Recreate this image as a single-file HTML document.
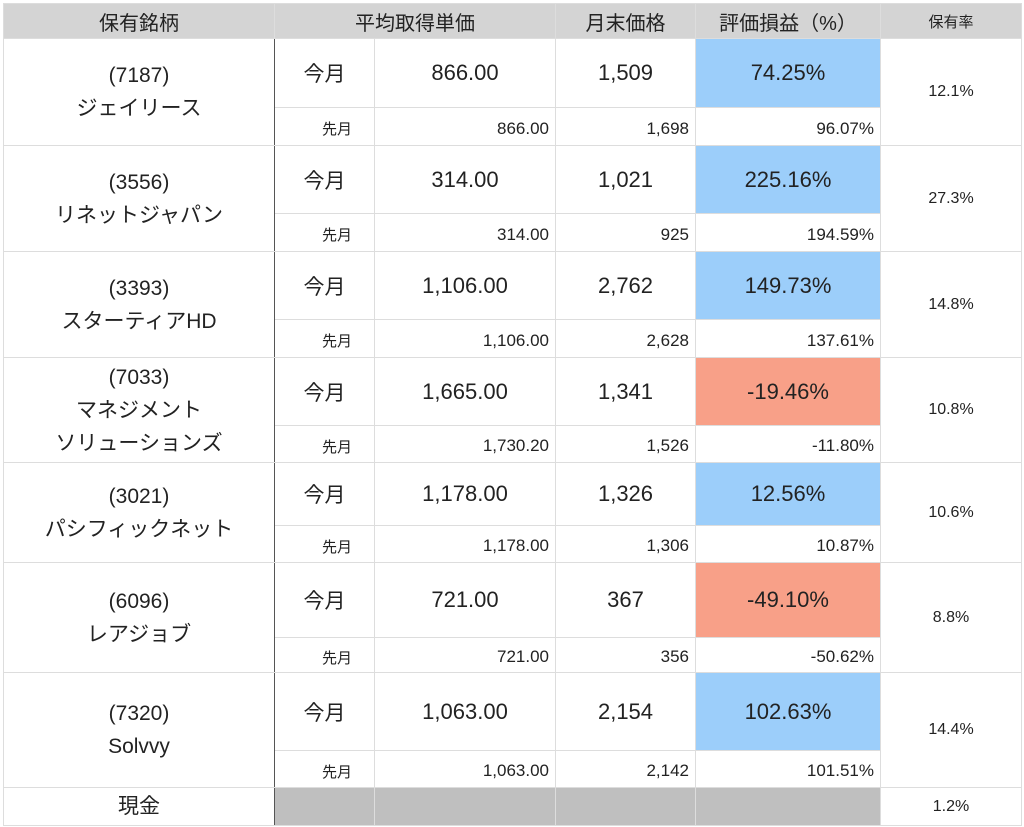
<!DOCTYPE html>
<html><head><meta charset="utf-8"><style>
body{margin:0;background:#fff;width:1024px;height:827px;overflow:hidden;font-family:"Liberation Sans","Noto Sans CJK JP",sans-serif;color:#222}
table{position:absolute;left:3px;top:3px;border-collapse:collapse;table-layout:fixed;width:1018px}
td,th{border:1px solid #ddd;padding:0;overflow:hidden;white-space:nowrap}
th{background:#d4d4d4;font-weight:normal;font-size:20px;height:34px;text-align:center}
th.s{font-size:15px}
td.n{font-size:21px;text-align:center;line-height:33px;border-right:1.5px solid #555}
td.k{font-size:21px;text-align:center}
td.v{font-size:22px;text-align:center}
td.p{font-size:17px;text-align:right;padding-right:6px;padding-top:4px}
td.pk{font-size:15px;text-align:right;padding-right:22px;padding-top:4px}
td.r{font-size:16px;text-align:center}
.b{background:#9ccefa}.o{background:#f8a088}.g{background:#bfbfbf}
</style></head><body>
<table>
<colgroup><col style="width:271px"><col style="width:100px"><col style="width:181px"><col style="width:140px"><col style="width:185px"><col style="width:141px"></colgroup>
<tr><th>保有銘柄</th><th colspan="2">平均取得単価</th><th>月末価格</th><th>評価損益（%）</th><th class="s">保有率</th></tr>

<tr style="height:69px"><td class="n" rowspan="2">(7187)<br>ジェイリース</td><td class="k">今月</td><td class="v">866.00</td><td class="v">1,509</td><td class="v b">74.25%</td><td class="r" rowspan="2">12.1%</td></tr>
<tr style="height:38px"><td class="pk">先月</td><td class="p">866.00</td><td class="p">1,698</td><td class="p">96.07%</td></tr>

<tr style="height:68px"><td class="n" rowspan="2">(3556)<br>リネットジャパン</td><td class="k">今月</td><td class="v">314.00</td><td class="v">1,021</td><td class="v b">225.16%</td><td class="r" rowspan="2">27.3%</td></tr>
<tr style="height:38px"><td class="pk">先月</td><td class="p">314.00</td><td class="p">925</td><td class="p">194.59%</td></tr>

<tr style="height:68px"><td class="n" rowspan="2">(3393)<br>スターティアHD</td><td class="k">今月</td><td class="v">1,106.00</td><td class="v">2,762</td><td class="v b">149.73%</td><td class="r" rowspan="2">14.8%</td></tr>
<tr style="height:38px"><td class="pk">先月</td><td class="p">1,106.00</td><td class="p">2,628</td><td class="p">137.61%</td></tr>

<tr style="height:68px"><td class="n" rowspan="2">(7033)<br>マネジメント<br>ソリューションズ</td><td class="k">今月</td><td class="v">1,665.00</td><td class="v">1,341</td><td class="v o">-19.46%</td><td class="r" rowspan="2">10.8%</td></tr>
<tr style="height:37px"><td class="pk">先月</td><td class="p">1,730.20</td><td class="p">1,526</td><td class="p">-11.80%</td></tr>

<tr style="height:63px"><td class="n" rowspan="2">(3021)<br>パシフィックネット</td><td class="k">今月</td><td class="v">1,178.00</td><td class="v">1,326</td><td class="v b">12.56%</td><td class="r" rowspan="2">10.6%</td></tr>
<tr style="height:37px"><td class="pk">先月</td><td class="p">1,178.00</td><td class="p">1,306</td><td class="p">10.87%</td></tr>

<tr style="height:75px"><td class="n" rowspan="2">(6096)<br>レアジョブ</td><td class="k">今月</td><td class="v">721.00</td><td class="v">367</td><td class="v o">-49.10%</td><td class="r" rowspan="2">8.8%</td></tr>
<tr style="height:35px"><td class="pk">先月</td><td class="p">721.00</td><td class="p">356</td><td class="p">-50.62%</td></tr>

<tr style="height:78px"><td class="n" rowspan="2">(7320)<br>Solvvy</td><td class="k">今月</td><td class="v">1,063.00</td><td class="v">2,154</td><td class="v b">102.63%</td><td class="r" rowspan="2">14.4%</td></tr>
<tr style="height:37px"><td class="pk">先月</td><td class="p">1,063.00</td><td class="p">2,142</td><td class="p">101.51%</td></tr>

<tr style="height:38px"><td class="n" style="line-height:20px">現金</td><td class="g"></td><td class="g"></td><td class="g"></td><td class="g"></td><td class="r">1.2%</td></tr>
</table>
</body></html>
